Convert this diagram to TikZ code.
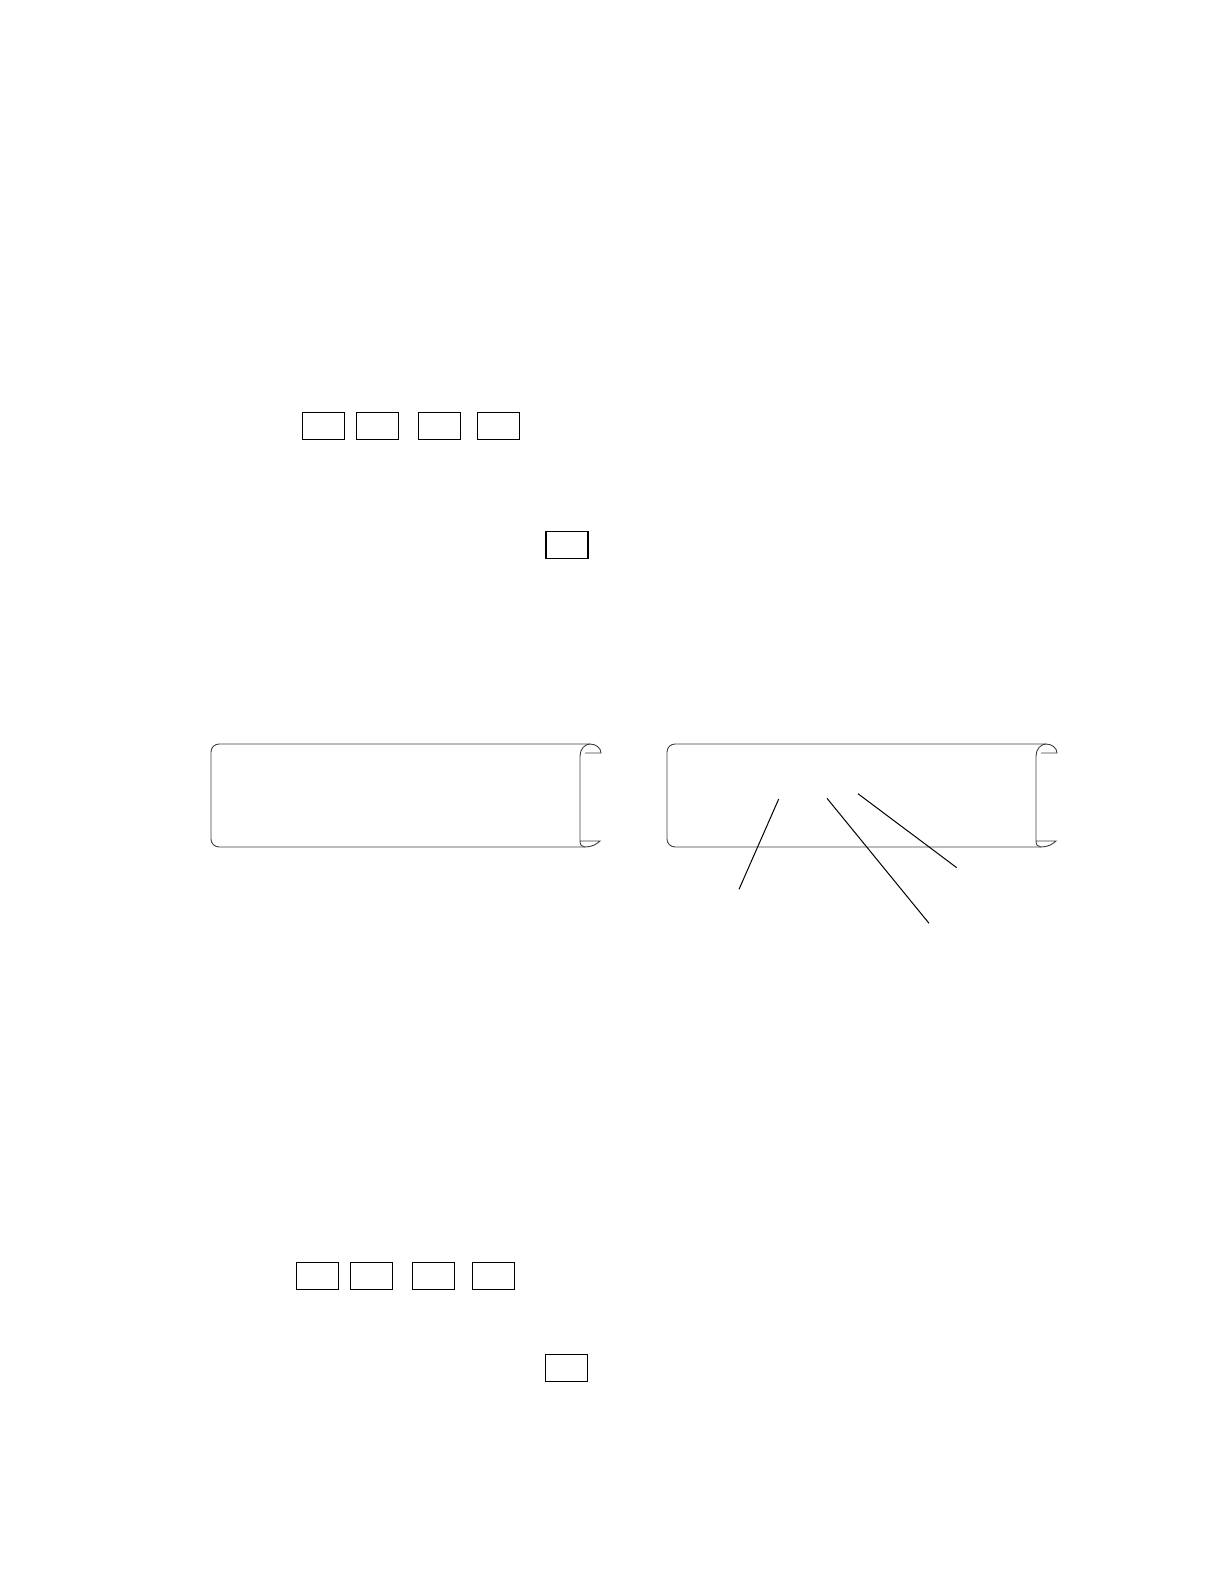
\documentclass[tikz,border=0pt]{standalone}
\usepackage[rgb]{xcolor}
\usepackage{tikz}

\begin{document}
\begin{tikzpicture}[x=0.5pt, y=-0.5pt,
  keybox/.style={draw=black, line width=0.7pt, minimum width=21pt, minimum height=13.5pt, inner sep=0pt},
  scrolledge/.style={draw=black!75, line width=0.45pt},
  leader/.style={draw=black, line width=0.5pt}]

\useasboundingbox (0,0) rectangle (1224,1584);


% Upper row of keys
\path
(323.3,425.8) node [keybox] (ktopa) {}
(377.3,425.8) node [keybox] (ktopb) {}
(439.3,425.8) node [keybox] (ktopc) {}
(498.3,425.8) node [keybox] (ktopd) {};

% Upper single key
\path
(567,544.7) node [keybox] (ktope) {};




% Left scroll
\draw[scrolledge, rounded corners=4pt] (590,744) -- (211,744) -- (211,847) -- (585,847);
\draw[scrolledge] (580,756) .. controls (580,749) and (585,744) .. (590,744) .. controls (596,744) and (601,748) .. (601,753) -- (585,753);
\draw[scrolledge] (580,756) -- (580,841) .. controls (580,845) and (582,847) .. (585,847) .. controls (592,847) and (597,844) .. (600,841) -- (580,841);


% Right scroll
\begin{scope}[shift={(456,0)}]
\draw[scrolledge, rounded corners=4pt] (590,744) -- (211,744) -- (211,847) -- (585,847);
\draw[scrolledge] (580,756) .. controls (580,749) and (585,744) .. (590,744) .. controls (596,744) and (601,748) .. (601,753) -- (585,753);
\draw[scrolledge] (580,756) -- (580,841) .. controls (580,845) and (582,847) .. (585,847) .. controls (592,847) and (597,844) .. (600,841) -- (580,841);
\end{scope}


% Leader lines
\coordinate (leadaa) at (778.7,799);
\coordinate (leadab) at (739,889.3);
\coordinate (leadba) at (827,798.3);
\coordinate (leadbb) at (929,923.3);
\coordinate (leadca) at (858,793.7);
\coordinate (leadcb) at (956.7,867.7);

\draw[leader] (leadaa) -- (leadab);
\draw[leader] (leadba) -- (leadbb);
\draw[leader] (leadca) -- (leadcb);




% Lower row of keys
\path
(317.5,1275.8) node [keybox] (kbota) {}
(371.3,1275.8) node [keybox] (kbotb) {}
(433.3,1275.8) node [keybox] (kbotc) {}
(493.3,1275.8) node [keybox] (kbotd) {};

% Lower single key
\path
(566.3,1367.8) node [keybox] (kbote) {};


\end{tikzpicture}
\end{document}
